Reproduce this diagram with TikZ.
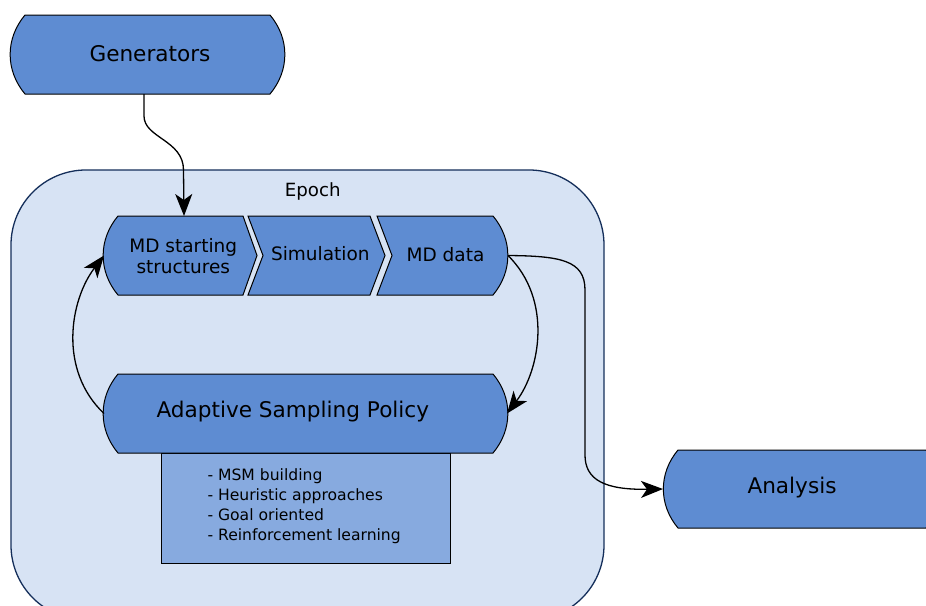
\documentclass[tikz,border=0pt]{standalone}
\usepackage{fontspec}
\setmainfont{DejaVu Sans}
\usetikzlibrary{calc,arrows.meta}

\definecolor{boxblue}{HTML}{5E8CD2}
\definecolor{listblue}{HTML}{87AADF}
\definecolor{epochfill}{HTML}{D7E3F4}
\definecolor{epochline}{HTML}{142E5A}

\begin{document}
\begin{tikzpicture}[x=1pt,y=1pt,
  holder/.style={rectangle,inner sep=0pt,outer sep=0pt,draw=none},
  outline/.style={draw=black,fill=boxblue,line width=1pt,line join=miter},
  listbox/.style={draw=black,fill=listblue,line width=1pt},
  container/.style={draw=epochline,fill=epochfill,line width=1.3pt,rounded corners=75pt},
  bigtext/.style={font=\fontsize{21.6}{26}\selectfont},
  midtext/.style={font=\fontsize{18.5}{21.6}\selectfont,align=center},
  smalltext/.style={font=\fontsize{15.6}{19.8}\selectfont,align=left},
  epochtext/.style={font=\fontsize{18.2}{22}\selectfont},
  flow/.style={draw=black,line width=1.3pt,-{Stealth[length=22pt,width=17pt,inset=6pt]}}]

\useasboundingbox (0,0) rectangle (926,-605);

% Epoch container (bottom runs past the page edge)
\node[holder,container,minimum width=593pt,minimum height=450pt] (epoch) at (307.5,-395) {};
\node[epochtext] (epochlabel) at (312.8,-191.5) {Epoch};

% Generators
\node[holder,minimum width=274pt,minimum height=79pt] (gen) at (147,-54.5) {};
\path[outline] ($(gen.north west)+(15,0)$) -- ($(gen.north east)+(-14,0)$)
  to[bend left=40] ($(gen.south east)+(-14,0)$) -- ($(gen.south west)+(15,0)$)
  to[bend left=40] ($(gen.north west)+(15,0)$) -- cycle;
\node[bigtext] (gentext) at (150,-54) {Generators};

% MD starting structures
\node[holder,minimum width=153pt,minimum height=79pt] (mds) at (180.5,-255.5) {};
\path[outline] ($(mds.north west)+(14,0)$) -- ($(mds.north east)+(-14,0)$)
  -- (mds.east) -- ($(mds.south east)+(-14,0)$) -- ($(mds.south west)+(14,0)$)
  to[bend left=40] ($(mds.north west)+(14,0)$) -- cycle;
\node[midtext] (mdstext) at (183.3,-256) {MD starting\\structures};

% Simulation
\node[holder,minimum width=137pt,minimum height=79pt] (sim) at (316.5,-255.5) {};
\path[outline] (sim.north west) -- ($(sim.north east)+(-15,0)$) -- (sim.east)
  -- ($(sim.south east)+(-15,0)$) -- (sim.south west) -- ($(sim.west)+(15,0)$) -- cycle;
\node[midtext] (simtext) at (320.3,-254) {Simulation};

% MD data
\node[holder,minimum width=131pt,minimum height=79pt] (mdd) at (442.5,-255.5) {};
\path[outline] (mdd.north west) -- ($(mdd.north east)+(-15,0)$)
  to[bend left=40] ($(mdd.south east)+(-15,0)$) -- (mdd.south west)
  -- ($(mdd.west)+(15,0)$) -- cycle;
\node[midtext] (mddtext) at (445.5,-255) {MD data};

% Policy details
\node[holder,listbox,minimum width=289pt,minimum height=110pt] (list) at (305.5,-508) {};
\node[smalltext,anchor=west] (listtext) at (204,-506) {- MSM building\\- Heuristic approaches\\- Goal oriented\\- Reinforcement learning};

% Adaptive Sampling Policy
\node[holder,minimum width=403pt,minimum height=79pt] (asp) at (305.5,-413.5) {};
\path[outline] ($(asp.north west)+(14,0)$) -- ($(asp.north east)+(-14,0)$)
  to[bend left=40] ($(asp.south east)+(-14,0)$) -- ($(asp.south west)+(14,0)$)
  to[bend left=40] ($(asp.north west)+(14,0)$) -- cycle;
\node[bigtext] (asptext) at (292.8,-411.7) {Adaptive Sampling Policy};

% Analysis (right end runs past the page edge)
\node[holder,minimum width=278pt,minimum height=78pt] (ana) at (802,-489) {};
\path[outline] ($(ana.north west)+(15,0)$) -- ($(ana.north east)+(-15,0)$)
  to[bend left=40] ($(ana.south east)+(-15,0)$) -- ($(ana.south west)+(15,0)$)
  to[bend left=40] ($(ana.north west)+(15,0)$) -- cycle;
\node[bigtext] (anatext) at (792,-487.5) {Analysis};

% Connectors
\draw[flow] ($(gen.south)+(-3,0)$) -- ++(0,-22)
  .. controls ++(0,-22) and (183.5,-140) .. (183.5,-170) -- ($(mds.north)+(3.5,0)$);
\draw[flow] (asp.west) .. controls (58,-370) and (70,-300) .. (mds.west);
\draw[flow] (mdd.east) .. controls (553,-300) and (540,-370) .. (asp.east);
\draw[flow] (mdd.east) .. controls (560,-256) and (585,-260) .. (585,-290)
  -- (585,-455) .. controls (585,-480) and (605,-490) .. (ana.west);
\end{tikzpicture}
\end{document}
